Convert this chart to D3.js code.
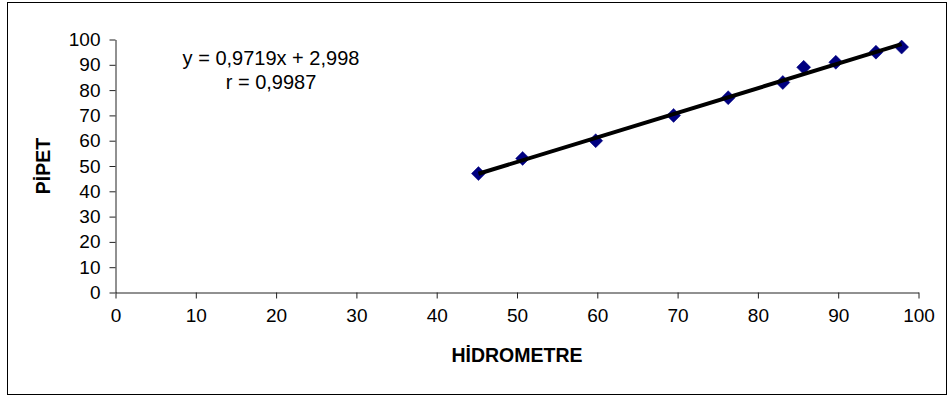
<!DOCTYPE html>
<html>
<head>
<meta charset="utf-8">
<script src="https://cdn.jsdelivr.net/npm/d3@7/dist/d3.min.js"></script>
<style>
  html, body { margin: 0; padding: 0; background: #fff; }
  svg { display: block; font-family: "Liberation Sans", Arial, sans-serif; }
</style>
</head>
<body>
<svg id="chart" width="949" height="396"></svg>
<script>
// Hidrometre vs pipet measurements
const hidrometre = [45.2, 50.7, 59.8, 69.5, 76.3, 83.1, 85.7, 89.7, 94.7, 97.9];
const pipet      = [47, 53, 60, 70, 77, 83, 89, 91, 95, 97];

// Linear fit shown in the annotation
const slope = 0.9719;
const intercept = 2.998;
const rValue = 0.9987;

const xTicks = [0, 10, 20, 30, 40, 50, 60, 70, 80, 90, 100];
const yTicks = [0, 10, 20, 30, 40, 50, 60, 70, 80, 90, 100];

const svg = d3.select("#chart");

// outer frame
svg.append("rect")
  .attr("x", 7.5).attr("y", 2.5)
  .attr("width", 939).attr("height", 392)
  .attr("fill", "#fff").attr("stroke", "#000").attr("stroke-width", 1);

const x = d3.scaleLinear().domain([0, 100]).range([115.5, 918.5]);
const y = d3.scaleLinear().domain([0, 100]).range([292.5, 39.5]);

const comma = v => String(v).replace(".", ",");

// x axis
const xAxis = svg.append("g")
  .attr("transform", `translate(0,${y(0)})`)
  .call(d3.axisBottom(x).tickValues(xTicks).tickSize(6).tickPadding(10).tickSizeOuter(0).tickFormat(d => d));
// y axis
const yAxis = svg.append("g")
  .attr("transform", `translate(${x(0)},0)`)
  .call(d3.axisLeft(y).tickValues(yTicks).tickSize(6).tickPadding(9).tickSizeOuter(0).tickFormat(d => d));

[xAxis, yAxis].forEach(g => {
  g.select(".domain").attr("stroke", "#222").attr("stroke-width", 1);
  g.selectAll(".tick line").attr("stroke", "#222").attr("stroke-width", 1);
  g.selectAll(".tick text")
    .attr("fill", "#000")
    .style("font-family", "'Liberation Sans', Arial, sans-serif")
    .style("font-size", "19px");
});

// axis titles
svg.append("text")
  .attr("x", (x(0) + x(100)) / 2).attr("y", 362)
  .attr("text-anchor", "middle")
  .style("font-size", "19.5px").style("font-weight", "bold")
  .text("HİDROMETRE");

svg.append("text")
  .attr("transform", `translate(50,${(y(0) + y(100)) / 2}) rotate(-90)`)
  .attr("text-anchor", "middle")
  .style("font-size", "19.5px").style("font-weight", "bold")
  .text("PİPET");

// data markers (diamonds)
const pts = hidrometre.map((h, i) => ({ h, p: pipet[i] }));
svg.append("g").selectAll("path")
  .data(pts)
  .join("path")
  .attr("transform", d => `translate(${x(d.h)},${y(d.p)})`)
  .attr("d", "M0,-7L7,0L0,7L-7,0Z")
  .attr("fill", "#000080")
  .attr("stroke", "#000080")
  .attr("stroke-width", 0.5);

// trend line across the data range, drawn over the markers
const xMin = d3.min(hidrometre), xMax = d3.max(hidrometre);
svg.append("line")
  .attr("x1", x(xMin)).attr("y1", y(slope * xMin + intercept))
  .attr("x2", x(xMax)).attr("y2", y(slope * xMax + intercept))
  .attr("stroke", "#000").attr("stroke-width", 4)
  .attr("stroke-linecap", "butt");

// equation annotation
const ann = svg.append("text")
  .attr("text-anchor", "middle")
  .style("font-size", "20px");
ann.append("tspan").attr("x", 271).attr("y", 65)
  .text(`y = ${comma(slope)}x + ${comma(intercept)}`);
ann.append("tspan").attr("x", 271).attr("y", 89)
  .text(`r = ${comma(rValue)}`);
</script>
</body>
</html>
